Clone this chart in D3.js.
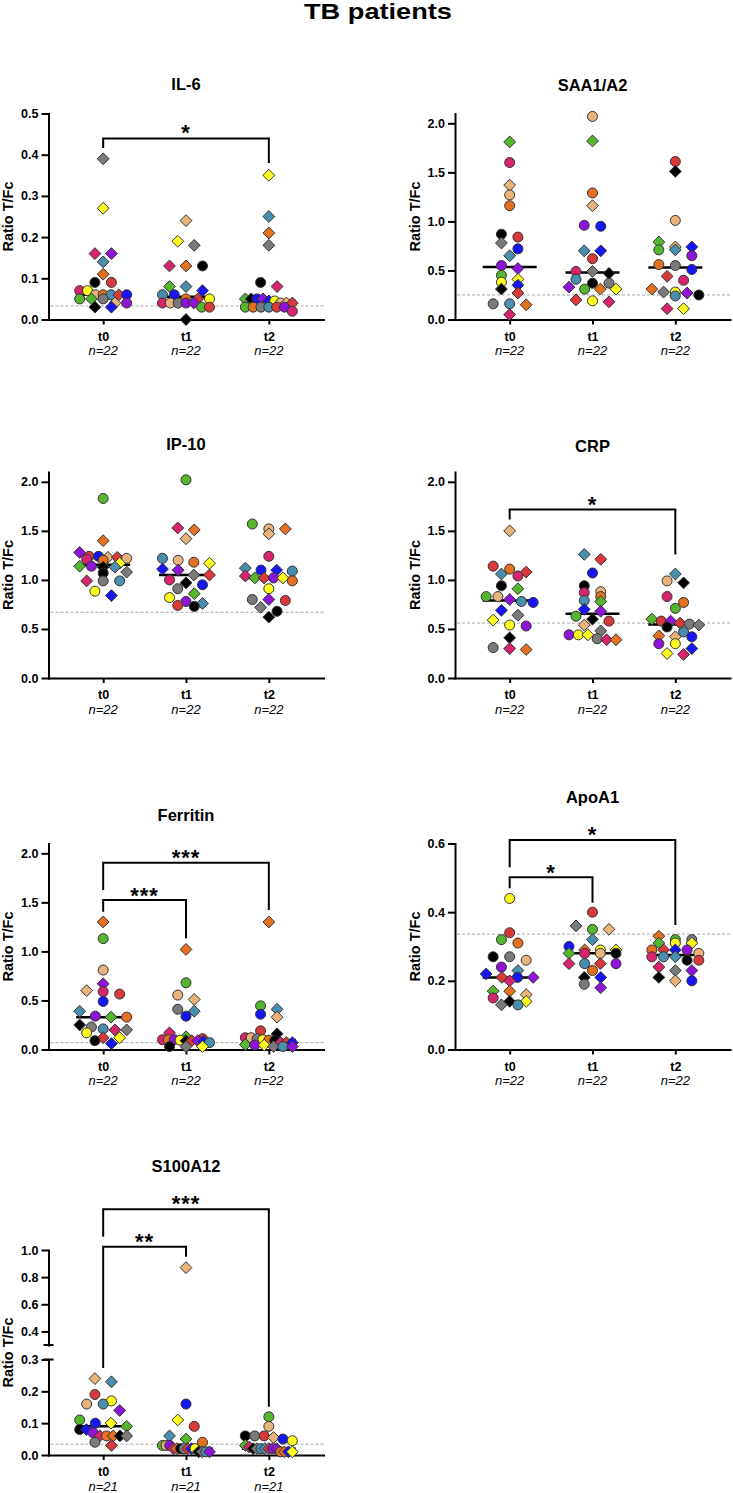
<!DOCTYPE html>
<html><head><meta charset="utf-8">
<script src="https://cdn.jsdelivr.net/npm/d3@7"></script>
<style>body{margin:0;background:#fff}</style>
</head><body>
<svg id="chart" width="733" height="1493"></svg>
<script>
// ---------------- DATA ----------------
const timepoints = ["t0", "t1", "t2"];
// patient identity: colour name + shape (C = circle, D = diamond)
const patients = ["greenC","greenD","crimsonC","crimsonD","tanC","tanD","orangeC","orangeD",
  "blackC","blackD","grayC","grayD","steelC","steelD","redC","redD","blueC","blueD",
  "purpleC","purpleD","yellowC","yellowD"];

const il6_t0 = [.05,.05,.07,.16,.06,.04,.06,.11,.09,.03,.05,.39,.06,.14,.09,.06,.06,.03,.04,.16,.07,.27];
const il6_t1 = [.03,.08,.04,.13,.04,.24,.05,.13,.13,0,.04,.18,.06,.08,.03,.05,.06,.07,.04,.04,.05,.19];
const il6_t2 = [.03,.05,.02,.08,.04,.04,.03,.21,.09,.05,.03,.18,.03,.25,.03,.04,.05,.045,.03,.05,.045,.35];

const saa_t0 = [.45,1.81,1.60,.05,1.27,1.37,1.16,.15,.87,.31,.16,.78,.16,.65,.84,.27,.72,.35,.55,.52,.38,.41];
const saa_t1 = [.31,1.82,.49,.18,2.07,1.16,1.29,.31,.37,.47,.37,.49,.41,.70,.62,.20,.95,.70,.96,.33,.19,.31];
const saa_t2 = [.71,.79,.40,.11,1.01,.74,.56,.31,.25,1.51,.55,.28,.24,.71,1.61,.44,.51,.74,.65,.27,.28,.11];

const ip10_t0 = [1.83,1.14,1.21,.99,1.22,1.23,1.20,1.40,1.07,1.13,.99,1.08,.99,1.13,1.24,1.23,1.24,.84,1.14,1.28,.885,1.17];
const ip10_t1 = [2.02,.86,1.00,1.53,1.20,1.42,1.18,1.51,.73,.97,.91,1.05,1.22,.76,.74,1.05,.95,1.11,.78,1.10,.82,1.17];
const ip10_t2 = [1.57,1.02,1.24,1.04,1.52,1.47,.99,1.52,.68,.62,.80,.72,1.09,1.12,.79,1.02,1.10,1.10,1.02,.80,.91,1.02];

const crp_t0 = [.83,.91,1.04,.30,.83,1.50,1.11,.29,.94,.41,.31,.64,.78,1.06,1.14,1.08,.77,.69,.53,.80,.54,.59];
const crp_t1 = [.63,.78,.87,.39,.88,.54,.83,.39,.94,.60,.40,.48,.79,1.26,.58,1.21,1.07,.70,.44,.68,.44,.44];
const crp_t2 = [.71,.60,.83,.24,.99,.42,.77,.43,.52,.97,.55,.54,.47,1.06,.58,.56,.42,.30,.35,.58,.35,.25];

const fer_t0 = [1.13,.33,.59,.20,.81,.60,.33,1.30,.09,.25,.23,.20,.21,.39,.565,.12,.49,.06,.34,.67,.17,.12];
const fer_t1 = [.68,.13,.10,.17,.555,.51,.10,1.02,.03,.09,.41,.03,.07,.39,.11,.09,.34,.08,.10,.09,.095,.03];
const fer_t2 = [.445,.05,.12,.07,.12,.33,.095,1.30,.09,.16,.11,.03,.03,.41,.19,.07,.36,.07,.045,.03,.10,.045];

const apo_t0 = [.32,.17,.15,.20,.26,.16,.31,.17,.27,.14,.27,.13,.13,.23,.34,.21,.21,.22,.24,.21,.44,.14];
const apo_t1 = [.35,.28,.28,.25,.28,.35,.23,.29,.28,.21,.19,.36,.25,.32,.40,.25,.30,.21,.25,.18,.29,.29];
const apo_t2 = [.32,.31,.27,.24,.28,.20,.29,.33,.26,.21,.32,.23,.27,.27,.26,.29,.20,.29,.29,.23,.31,.31];

const s100_t0 = [.11,.09,null,.06,.16,.24,.06,.06,.08,.06,.04,.06,.16,.23,.19,.03,.10,.08,.07,.14,.17,.10];
const s100_t1 = [.03,.05,null,.02,.03,.87,.04,.02,.02,.01,.02,.01,.01,.06,.09,.02,.16,.02,.03,.01,.02,.11];
const s100_t2 = [.12,.03,null,.025,.09,.055,.01,.01,.06,.02,.06,.02,.02,.02,.06,.02,.05,.01,.02,.02,.045,.01];

// dashed reference levels
const refLevels = {il6: .033, saa: .25, ip10: .67, crp: .56, fer: .07, apo: .336, s100: .034};
const nLabels = {n22: "n=22", n21: "n=21"};

// tick values
const ticksIL6 = [0, .1, .2, .3, .4, .5];
const ticks2 = [0, .5, 1, 1.5, 2];
const ticksApo = [0, .2, .4, .6];
const ticksS100low = [0, .1, .2, .3];
const ticksS100high = [.4, .6, .8, 1.0];

// ---------------- STYLE / LAYOUT ----------------
const palette = {green:"#55b52f", crimson:"#d6246e", tan:"#e8b47c", orange:"#e3711f", black:"#000000",
  gray:"#7a7a7a", steel:"#4a8eae", red:"#d83a3a", blue:"#1515f5", purple:"#8e14d8", yellow:"#ffff20"};
const FONT = "'Liberation Sans', Arial, Helvetica, sans-serif";
const colX = [48.5, 455];
const axisLen = 275;

const panels = [
  {title:"IL-6", vals:[il6_t0,il6_t1,il6_t2], ref:refLevels.il6, n:nLabels.n22, col:0, titleY:90,
   segs:[{d:[0,.5], r:[319.5,113.5], ticks:ticksIL6}],
   brackets:[{a:"t0", b:"t2", lab:"*", y:138.5, ya:148, yb:163, ys:127}]},
  {title:"SAA1/A2", vals:[saa_t0,saa_t1,saa_t2], ref:refLevels.saa, n:nLabels.n22, col:1, titleY:91,
   segs:[{d:[0,2.1], r:[319.5,113.5], ticks:ticks2}], brackets:[]},
  {title:"IP-10", vals:[ip10_t0,ip10_t1,ip10_t2], ref:refLevels.ip10, n:nLabels.n22, col:0, titleY:450,
   segs:[{d:[0,2.1], r:[678,472], ticks:ticks2}], brackets:[]},
  {title:"CRP", vals:[crp_t0,crp_t1,crp_t2], ref:refLevels.crp, n:nLabels.n22, col:1, titleY:452,
   segs:[{d:[0,2.1], r:[678,472], ticks:ticks2}],
   brackets:[{a:"t0", b:"t2", lab:"*", y:509.5, ya:519.5, yb:554.5, ys:499}]},
  {title:"Ferritin", vals:[fer_t0,fer_t1,fer_t2], ref:refLevels.fer, n:nLabels.n22, col:0, titleY:821,
   segs:[{d:[0,2.1], r:[1049.5,843.5], ticks:ticks2}],
   brackets:[{a:"t0", b:"t2", lab:"***", y:862.7, ya:890, yb:910, ys:852},
             {a:"t0", b:"t1", lab:"***", y:900, ya:911.7, yb:938.3, ys:890}]},
  {title:"ApoA1", vals:[apo_t0,apo_t1,apo_t2], ref:refLevels.apo, n:nLabels.n22, col:1, titleY:803,
   segs:[{d:[0,.6], r:[1049.5,843.5], ticks:ticksApo}],
   brackets:[{a:"t0", b:"t2", lab:"*", y:840, ya:867.3, yb:925, ys:829.3},
             {a:"t0", b:"t1", lab:"*", y:877.3, ya:888.3, yb:902.7, ys:867.3}]},
  {title:"S100A12", vals:[s100_t0,s100_t1,s100_t2], ref:refLevels.s100, n:nLabels.n21, col:0, titleY:1172,
   segs:[{d:[0,.3], r:[1455,1359.5], ticks:ticksS100low},{d:[.3,1.0], r:[1345,1250], ticks:ticksS100high}],
   brackets:[{a:"t0", b:"t2", lab:"***", y:1209.3, ya:1236.7, yb:1406.7, ys:1198.3},
             {a:"t0", b:"t1", lab:"**", y:1246.7, ya:1368, yb:1256.7, ys:1236}]}
];

const svg = d3.select("#chart");
svg.append("rect").attr("width",733).attr("height",1493).attr("fill","#fff");

svg.append("text").attr("x",378).attr("y",19).attr("text-anchor","middle")
  .attr("font-family",FONT).attr("font-weight","bold").attr("font-size",22)
  .attr("textLength",148).attr("lengthAdjust","spacingAndGlyphs").text("TB patients");

function diamondPath(s){ return `M0,${-s}L${s},0L0,${s}L${-s},0Z`; }

function swarm(vals, yfn){
  const pts = [];
  vals.forEach((v,i) => { if (v !== null && v !== undefined) pts.push({i, v, y:yfn(v)}); });
  pts.sort((a,b) => a.y - b.y || a.i - b.i);
  const rows = [];
  let cur = null;
  pts.forEach(p => {
    if (!cur || p.y - cur[0].y > 6.5) { cur = [p]; rows.push(cur); } else cur.push(p);
  });
  rows.forEach(row => {
    const k = row.length;
    const s = k > 1 ? Math.min(16.5, 47/(k-1)) : 0;
    row.forEach((p,j) => { p.dx = (j - (k-1)/2) * s; });
  });
  return pts;
}

panels.forEach(p => {
  const g = svg.append("g");
  const ax = colX[p.col];
  const x = d3.scalePoint().domain(timepoints).range([ax, ax+axisLen]).padding(0.66);
  const scales = p.segs.map(s => d3.scaleLinear().domain(s.d).range(s.r));
  const y = v => {
    for (let k = 0; k < p.segs.length; k++) {
      if (v <= p.segs[k].d[1] || k === p.segs.length-1) return scales[k](v);
    }
  };
  const yBottom = p.segs[0].r[0];
  const yTop = p.segs[p.segs.length-1].r[1];

  // title
  g.append("text").attr("x", ax+axisLen/2).attr("y", p.titleY).attr("text-anchor","middle")
    .attr("font-family",FONT).attr("font-weight","bold").attr("font-size",16.5).text(p.title);
  // y label
  g.append("text").attr("transform",`translate(${ax-40.5},${(yBottom+yTop)/2}) rotate(-90)`)
    .attr("text-anchor","middle").attr("dy","0.35em")
    .attr("font-family",FONT).attr("font-weight","bold").attr("font-size",14.5).text("Ratio T/Fc");

  // reference line
  g.append("line").attr("x1",ax+2).attr("x2",ax+axisLen).attr("y1",y(p.ref)).attr("y2",y(p.ref))
    .attr("stroke","#a8a8a8").attr("stroke-width",1).attr("stroke-dasharray","3,2");

  // y axes
  scales.forEach((sc,k) => {
    const axis = d3.axisLeft(sc).tickValues(p.segs[k].ticks).tickFormat(d3.format(".1f"))
      .tickSize(7).tickPadding(3).tickSizeOuter(0);
    const ag = g.append("g").attr("transform",`translate(${ax},0)`).call(axis);
    ag.select(".domain").attr("stroke","#000").attr("stroke-width",2).attr("stroke-linecap","square");
    ag.selectAll(".tick line").attr("stroke","#000").attr("stroke-width",2);
    ag.selectAll(".tick text").attr("font-family",FONT).attr("font-weight","bold")
      .attr("font-size",12.5).attr("fill","#000");
  });
  if (p.segs.length > 1) {
    const capY = [p.segs[0].r[1], p.segs[1].r[0]];
    capY.forEach(cy => g.append("line").attr("x1",ax-5).attr("x2",ax+5).attr("y1",cy).attr("y2",cy)
      .attr("stroke","#000").attr("stroke-width",2));
  }

  // x axis
  const xg = g.append("g").attr("transform",`translate(0,${yBottom})`)
    .call(d3.axisBottom(x).tickSize(5).tickPadding(7.5).tickSizeOuter(0));
  xg.select(".domain").attr("stroke","#000").attr("stroke-width",2).attr("stroke-linecap","square");
  xg.selectAll(".tick line").attr("stroke","#000").attr("stroke-width",2);
  xg.selectAll(".tick text").attr("font-family",FONT).attr("font-weight","bold")
    .attr("font-size",12.5).attr("fill","#000");
  timepoints.forEach(t => {
    g.append("text").attr("x",x(t)).attr("y",yBottom+35.5).attr("text-anchor","middle")
      .attr("font-family",FONT).attr("font-style","italic").attr("font-size",13).text(p.n);
  });

  // medians
  timepoints.forEach((t,ti) => {
    const m = d3.median(p.vals[ti].filter(v => v !== null));
    g.append("line").attr("x1",x(t)-27).attr("x2",x(t)+27).attr("y1",y(m)).attr("y2",y(m))
      .attr("stroke","#000").attr("stroke-width",2.5);
  });

  // points
  timepoints.forEach((t,ti) => {
    const pts = swarm(p.vals[ti], y);
    pts.forEach(pt => {
      const key = patients[pt.i];
      const col = palette[key.slice(0,-1)];
      const shape = key.slice(-1);
      const cx = x(t) + pt.dx, cy = pt.y;
      if (shape === "C") {
        g.append("circle").attr("cx",cx).attr("cy",cy).attr("r",5)
          .attr("fill",col).attr("stroke","#333").attr("stroke-width",1);
      } else {
        g.append("path").attr("d",diamondPath(5.9)).attr("transform",`translate(${cx},${cy})`)
          .attr("fill",col).attr("stroke","#333").attr("stroke-width",1);
      }
    });
  });

  // significance brackets
  p.brackets.forEach(b => {
    const xa = x(b.a), xb = x(b.b);
    g.append("path").attr("d",`M${xa},${b.ya}V${b.y}H${xb}V${b.yb}`)
      .attr("fill","none").attr("stroke","#000").attr("stroke-width",2);
    g.append("text").attr("x",(xa+xb)/2).attr("y",b.ys+13).attr("text-anchor","middle")
      .attr("font-family",FONT).attr("font-weight","bold").attr("font-size",22)
      .attr("letter-spacing",1).text(b.lab);
  });
});
</script>
</body></html>
